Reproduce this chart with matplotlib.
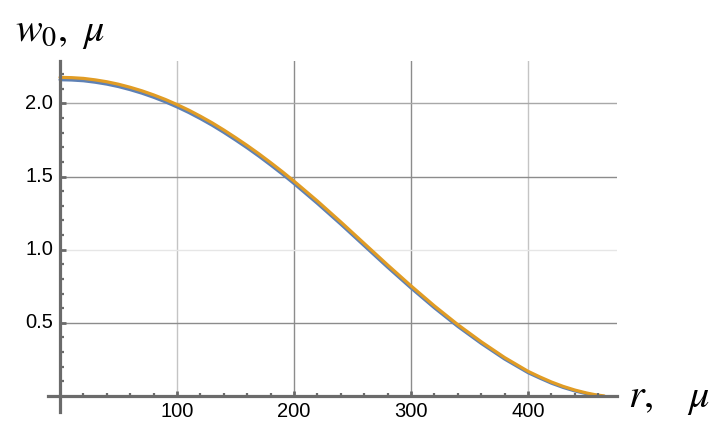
import matplotlib
matplotlib.use("Agg")
import matplotlib.pyplot as plt
import numpy as np

# ---- data ----
r_orange = [0, 10, 20, 30, 40, 50, 60, 70, 80, 90, 100, 110, 120, 130, 140, 150,
            160, 170, 180, 190, 200, 220, 240, 260, 280, 300, 320, 340, 360, 380,
            400, 410, 420, 430, 440, 450, 458, 465]
w_orange = [2.178, 2.176, 2.171, 2.161, 2.148, 2.131, 2.110, 2.086, 2.058, 2.027,
            1.992, 1.954, 1.912, 1.867, 1.818, 1.766, 1.712, 1.655, 1.595, 1.533,
            1.468, 1.332, 1.189, 1.042, 0.895, 0.752, 0.615, 0.487, 0.370, 0.262,
            0.168, 0.130, 0.095, 0.065, 0.040, 0.020, 0.007, 0.0]
r_blue = [0, 10, 20, 30, 40, 50, 60, 70, 80, 90, 100, 110, 120, 130, 140, 150,
          160, 170, 180, 190, 200, 220, 240, 260, 280, 300, 320, 340, 360, 380,
          400, 410, 420, 430, 440, 450, 456, 462]
w_blue = [2.162, 2.160, 2.155, 2.145, 2.132, 2.115, 2.094, 2.070, 2.042, 2.011,
          1.976, 1.938, 1.896, 1.851, 1.802, 1.750, 1.696, 1.639, 1.579, 1.517,
          1.452, 1.316, 1.174, 1.027, 0.880, 0.738, 0.602, 0.475, 0.359, 0.252,
          0.159, 0.122, 0.087, 0.058, 0.034, 0.015, 0.005, 0.0]
x_major = [100, 200, 300, 400]
x_major_labels = ["100", "200", "300", "400"]
y_major = [0.5, 1.0, 1.5, 2.0]
y_major_labels = ["0.5", "1.0", "1.5", "2.0"]
x_grid_colors = ["#c4c4c4", "#8c8c8c", "#8c8c8c", "#c4c4c4"]
y_grid_colors = ["#8c8c8c", "#e6e6e6", "#8c8c8c", "#a8a8a8"]

plt.rcParams['mathtext.fontset'] = 'stix'
plt.rcParams['font.family'] = ['Liberation Sans', 'DejaVu Sans']

fig = plt.figure(figsize=(7.24, 4.40), dpi=100)
ax = fig.add_axes([48/724, 28/440, 569/724, 351/440])
xmin, xmax = -10.3, 476
ymin, ymax = -0.11, 2.29
ax.set_xlim(xmin, xmax)
ax.set_ylim(ymin, ymax)
for s in ax.spines.values():
    s.set_visible(False)
ax.set_xticks([])
ax.set_yticks([])

# grid lines
for xv, c in zip(x_major, x_grid_colors):
    ax.plot([xv, xv], [0, ymax], color=c, lw=1.0, zorder=1)
for yv, c in zip(y_major, y_grid_colors):
    ax.plot([0, xmax], [yv, yv], color=c, lw=1.0, zorder=1)

# curves
ax.plot(r_blue, w_blue, color="#5E81B5", lw=2.3, zorder=3, solid_capstyle='round')
ax.plot(r_orange, w_orange, color="#E19C24", lw=2.3, zorder=4, solid_capstyle='round')

axis_color = "#6b6b6b"
ax.plot([xmin, xmax], [0, 0], color=axis_color, lw=2.3, zorder=5, clip_on=False)
ax.plot([0, 0], [ymin, ymax], color=axis_color, lw=2.3, zorder=5, clip_on=False)

# ticks (in data units converted from pixels)
px_x = (xmax - xmin) / 569.0
px_y = (ymax - ymin) / 351.0
for xv in np.arange(20, 476, 20):
    major = xv % 100 == 0
    L = (5 if major else 3) * px_y
    ax.plot([xv, xv], [0, L], color=axis_color, lw=2.0 if major else 1.6, zorder=5,
            solid_capstyle='butt')
for yv in np.arange(0.1, 2.29, 0.1):
    major = abs(yv * 2 - round(yv * 2)) < 1e-6
    L = (6 if major else 4) * px_x
    ax.plot([0, L], [yv, yv], color=axis_color, lw=2.0 if major else 1.6, zorder=5,
            solid_capstyle='butt')

# tick labels
for xv, lab in zip(x_major, x_major_labels):
    ax.text(xv, -0.105, lab, ha='center', va='center', fontsize=14.5, color='black')
for yv, lab in zip(y_major, y_major_labels):
    ax.text(-7 * px_x, yv, lab, ha='right', va='center', fontsize=14.5, color='black')

# axis labels
fig.text(15/724, 1 - 32/440, r"$w_0,\ \mu$", fontsize=29, ha='left', va='center')
fig.text(628/724, 1 - 398/440, r"$r,\ \ \ \mu$", fontsize=29, ha='left', va='center')

fig.savefig("out.png", dpi=100)
